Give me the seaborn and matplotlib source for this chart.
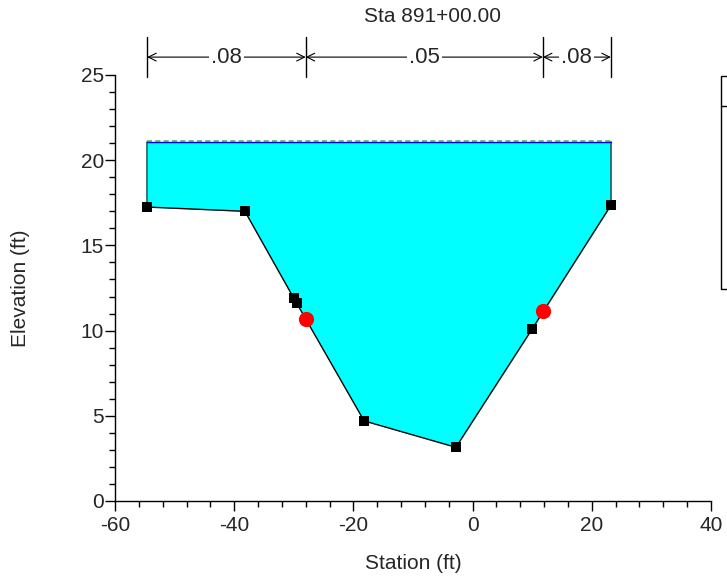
import numpy as np
import pandas as pd
import matplotlib
matplotlib.use("Agg")
import matplotlib.pyplot as plt
import matplotlib.transforms as mtransforms
from matplotlib.patches import Rectangle
from matplotlib.lines import Line2D
from matplotlib.ticker import MultipleLocator
import seaborn as sns

# =========================
# DATA
# =========================
station = [-54.6, -38.2, -30.0, -29.5, -18.2, -2.8, 10.0, 23.2]
elevation = [17.25, 17.0, 11.9, 11.6, 4.7, 3.15, 10.1, 17.35]

bank_station = [-28.0, 11.8]
bank_elev = [10.7, 11.15]

ws_elev = 21.08
eg_elev = 21.15

n_breaks = [-54.6, -28.0, 11.8, 23.2]
n_values = [".08", ".05", ".08"]

title = "Sta 891+00.00"

ground = pd.DataFrame({"Station": station, "Elevation": elevation})
banks = pd.DataFrame({"Station": bank_station, "Elevation": bank_elev})

# =========================
# STYLE
# =========================
sns.set_style("ticks")
plt.rcParams["font.family"] = ["Liberation Sans", "DejaVu Sans"]
plt.rcParams["axes.unicode_minus"] = False

fig = plt.figure(figsize=(7.27, 5.81), dpi=100)
ax = fig.add_axes([115 / 727, 1 - 501 / 581, 596 / 727, 426 / 581])

# water
ax.fill_between(station, elevation, ws_elev, color="#00ffff", lw=0, zorder=1)
ax.plot([station[0], station[0]], [elevation[0], ws_elev], color="#1f5f5f", lw=1.2, zorder=2)
ax.plot([station[-1], station[-1]], [elevation[-1], ws_elev], color="#1f5f5f", lw=1.2, zorder=2)
ax.plot([station[0], station[-1]], [eg_elev, eg_elev], color="#55bb55", lw=1.2,
        ls=(0, (3, 2)), zorder=2)
ax.plot([station[0], station[-1]], [ws_elev, ws_elev], color="#0000ff", lw=1.0, zorder=3)

# ground
sns.lineplot(data=ground, x="Station", y="Elevation", color="black", lw=1.0,
             sort=False, ax=ax, zorder=4)
sns.scatterplot(data=ground, x="Station", y="Elevation", marker="s", color="black",
                s=45, edgecolor="black", linewidth=0, ax=ax, zorder=5)
sns.scatterplot(data=banks, x="Station", y="Elevation", marker="o", color="#ff0000",
                s=120, edgecolor="#ff0000", linewidth=0, ax=ax, zorder=6)

# axes
ax.set_xlim(-60, 40)
ax.set_ylim(0, 25)
ax.xaxis.set_major_locator(MultipleLocator(20))
ax.xaxis.set_minor_locator(MultipleLocator(4))
ax.yaxis.set_major_locator(MultipleLocator(5))
ax.yaxis.set_minor_locator(MultipleLocator(1))
ax.tick_params(which="major", length=7, width=1, labelsize=15, color="black")
ax.tick_params(which="minor", length=4, width=1, color="black")
ax.tick_params(axis="x", which="major", pad=4)
ax.tick_params(axis="y", which="major", pad=1)
for s in ["top", "right"]:
    ax.spines[s].set_visible(False)
for s in ["left", "bottom"]:
    ax.spines[s].set_color("black")
    ax.spines[s].set_linewidth(1)

ax.set_xlabel("Station (ft)", fontsize=15)
ax.set_ylabel("Elevation (ft)", fontsize=15)
ax.xaxis.set_label_coords(0.5, -0.125)
ax.yaxis.set_label_coords(-0.143, 0.5)

# manning n bars
trans = mtransforms.blended_transform_factory(ax.transData, ax.transAxes)
for xb in n_breaks:
    ax.plot([xb, xb], [0.995, 1.09], color="black", lw=1, transform=trans, clip_on=False)
for i, nv in enumerate(n_values):
    x0, x1 = n_breaks[i], n_breaks[i + 1]
    ax.annotate("", xy=(x0, 1.042), xytext=(x1, 1.042), xycoords=trans, textcoords=trans,
                arrowprops=dict(arrowstyle="<->", color="black", lw=0.8,
                                shrinkA=0, shrinkB=0, mutation_scale=14),
                annotation_clip=False)
    ax.text((x0 + x1) / 2, 1.042, nv, transform=trans, ha="center", va="center",
            fontsize=16, bbox=dict(facecolor="white", edgecolor="none", pad=1.5),
            clip_on=False)

fig.text(433 / 727, 1 - 17 / 581, title, ha="center", va="center", fontsize=15)

# legend box (cut off at right edge)
fig.add_artist(Rectangle((721 / 727, 1 - 289 / 581), 0.05, 213 / 581,
                         transform=fig.transFigure, fill=False, edgecolor="black",
                         lw=1, clip_on=False))
fig.add_artist(Line2D([721 / 727, 1.0], [1 - 106 / 581, 1 - 106 / 581],
                      transform=fig.transFigure, color="black", lw=1))

plt.savefig("out.png", dpi=100)
